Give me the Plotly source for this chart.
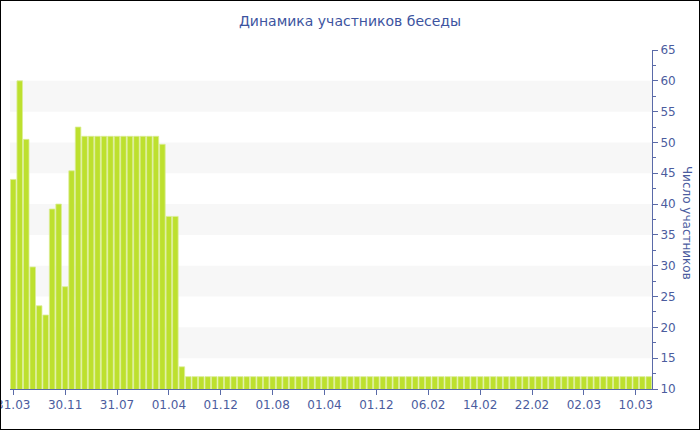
import plotly.graph_objects as go

# category dates (unique, with years) and participant counts
dates = [
    "31.03.2014", "30.04.2014", "31.05.2014", "30.06.2014", "31.07.2014", "31.08.2014",
    "30.09.2014", "31.10.2014", "30.11.2014", "31.12.2014", "31.01.2015", "28.02.2015",
    "31.03.2015", "30.04.2015", "31.05.2015", "30.06.2015", "31.07.2015", "31.08.2015",
    "30.09.2015", "31.10.2015", "30.11.2015", "31.12.2015", "31.01.2016", "01.03.2016",
    "01.04.2016", "01.05.2016", "01.06.2016", "01.07.2016", "01.08.2016", "01.09.2016",
    "01.10.2016", "01.11.2016", "01.12.2016", "01.01.2017", "01.02.2017", "01.03.2017",
    "01.04.2017", "01.05.2017", "01.06.2017", "01.07.2017", "01.08.2017", "01.09.2017",
    "01.10.2017", "01.11.2017", "01.12.2017", "01.01.2018", "01.02.2018", "01.03.2018",
    "01.04.2018", "01.05.2018", "01.06.2018", "01.07.2018", "01.08.2018", "01.09.2018",
    "01.10.2018", "01.11.2018", "01.12.2018", "01.01.2019", "30.01.2019", "01.02.2019",
    "02.02.2019", "03.02.2019", "04.02.2019", "05.02.2019", "06.02.2019", "07.02.2019",
    "08.02.2019", "09.02.2019", "10.02.2019", "11.02.2019", "12.02.2019", "13.02.2019",
    "14.02.2019", "15.02.2019", "16.02.2019", "17.02.2019", "18.02.2019", "19.02.2019",
    "20.02.2019", "21.02.2019", "22.02.2019", "23.02.2019", "24.02.2019", "25.02.2019",
    "26.02.2019", "27.02.2019", "28.02.2019", "01.03.2019", "02.03.2019", "03.03.2019",
    "04.03.2019", "05.03.2019", "06.03.2019", "07.03.2019", "08.03.2019", "09.03.2019",
    "10.03.2019", "11.03.2019", "12.03.2019",
]

members = [
    44, 60, 50.5, 29.8, 23.5, 22, 39.2, 40, 26.6, 45.4, 52.5,
    51, 51, 51, 51, 51, 51, 51, 51, 51, 51, 51, 51,
    49.7, 38, 38, 13.6,
] + [12] * 72

tick_dates = dates[::8]
tick_text = [d[:5] for d in tick_dates]

bands = [(15, 20), (25, 30), (35, 40), (45, 50), (55, 60)]

text_color = "#4b5c9e"
axis_color = "#5a6aa8"

fig = go.Figure(go.Bar(
    x=dates,
    y=members,
    marker_color="#bde02e",
    marker_line=dict(color="#dbee96", width=0.8),
    hovertemplate="%{x}<br>%{y}<extra></extra>",
))

shapes = [
    dict(type="rect", xref="paper", yref="y", x0=0, x1=1, y0=lo, y1=hi,
         fillcolor="#f7f7f7", line_width=0, layer="below")
    for lo, hi in bands
]
# outer frame around the whole chart
W, H = 642, 339
shapes.append(dict(type="rect", xref="paper", yref="paper",
                   x0=-10 / W, x1=1 + 48 / W, y0=-41 / H, y1=1 + 50 / H,
                   line=dict(color="black", width=2)))

fig.update_layout(
    width=700,
    height=430,
    margin=dict(l=10, r=48, t=50, b=41, autoexpand=False),
    paper_bgcolor="white",
    plot_bgcolor="white",
    font=dict(family="DejaVu Sans, Verdana, sans-serif", size=12, color=text_color),
    title=dict(text="Динамика участников беседы", x=0.5, xanchor="center",
               y=0.95, yanchor="middle", font=dict(size=14, color="#3d54a0")),
    bargap=0.14,
    showlegend=False,
    shapes=shapes,
    annotations=[dict(
        text="Число участников", textangle=90, xref="paper", yref="paper",
        x=1 + 26 / W, y=0.49, xanchor="left", yanchor="middle", showarrow=False,
        font=dict(size=12, color=text_color),
    )],
)

fig.update_xaxes(
    type="category",
    tickmode="array",
    tickvals=tick_dates,
    ticktext=tick_text,
    showline=True,
    linecolor=axis_color,
    linewidth=1,
    ticks="outside",
    ticklen=5,
    tickcolor=axis_color,
    showgrid=False,
    range=[-0.5, len(dates) - 0.5],
)

fig.update_yaxes(
    side="right",
    range=[10, 65],
    tick0=10,
    dtick=5,
    showline=True,
    linecolor=axis_color,
    linewidth=1,
    ticks="outside",
    ticklen=5,
    tickcolor=axis_color,
    minor=dict(dtick=2.5, tick0=10, ticks="outside", ticklen=3, tickcolor=axis_color),
    showgrid=False,
    zeroline=False,
)

# drop the default page margin so the chart sits at the window's corner
fig.write_html("out.html", config={"displayModeBar": False},
               post_script="document.body.style.margin = '0';")
